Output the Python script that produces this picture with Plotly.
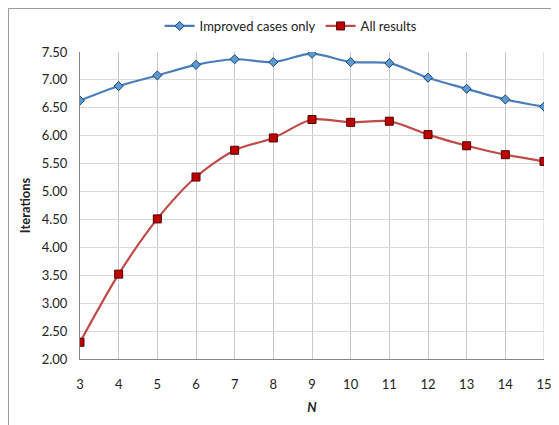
import plotly.graph_objects as go

n_values = [3, 4, 5, 6, 7, 8, 9, 10, 11, 12, 13, 14, 15]
improved_only = [6.63, 6.89, 7.08, 7.27, 7.37, 7.32, 7.47, 7.32, 7.30, 7.04, 6.84, 6.65, 6.52]
all_results = [2.30, 3.52, 4.51, 5.26, 5.74, 5.96, 6.29, 6.24, 6.26, 6.02, 5.82, 5.66, 5.54]
y_ticks = [2.0, 2.5, 3.0, 3.5, 4.0, 4.5, 5.0, 5.5, 6.0, 6.5, 7.0, 7.5]

FONT = "Lato, 'Open Sans', sans-serif"

fig = go.Figure()
fig.add_trace(go.Scatter(
    x=n_values, y=improved_only, name="Improved cases only",
    mode="lines+markers", line=dict(color="#4A7EBB", width=2.2, shape="spline", smoothing=0.8),
    marker=dict(symbol="diamond", size=7, color="#5B9BD5", line=dict(color="#1F3F6A", width=1)),
))
fig.add_trace(go.Scatter(
    x=n_values, y=all_results, name="All results",
    mode="lines+markers", line=dict(color="#BE4B48", width=2.2, shape="spline", smoothing=0.8),
    marker=dict(symbol="square", size=8, color="#C00000", line=dict(color="#4D0000", width=1)),
))

fig.update_layout(
    width=559, height=425,
    margin=dict(l=72, r=23, t=44, b=74, autoexpand=False),
    paper_bgcolor="white", plot_bgcolor="white",
    font=dict(family=FONT, size=13, color="#222222"),
    showlegend=True,
    legend=dict(orientation="h", x=0.455, xanchor="center", yref="container", y=1 - 18 / 425,
                yanchor="middle", font=dict(size=13), itemwidth=30, bgcolor="rgba(0,0,0,0)"),
    xaxis=dict(
        range=[3, 15], tickvals=n_values, tickmode="array", automargin=False,
        showgrid=True, gridcolor="#C8C8C8", gridwidth=1,
        showline=True, linecolor="#868686", linewidth=1,
        ticks="outside", ticklen=13, tickcolor="rgba(0,0,0,0)", zeroline=False,
        title=dict(text="<b><i>N</i></b>", font=dict(size=13), standoff=12),
        tickfont=dict(size=13),
    ),
    yaxis=dict(
        range=[2.0, 7.5], tickvals=y_ticks, tickformat=".2f", automargin=False,
        showgrid=True, gridcolor="#D9D9D9", gridwidth=1,
        showline=True, linecolor="#868686", linewidth=1,
        ticks="outside", ticklen=9, tickcolor="rgba(0,0,0,0)", zeroline=False,
        title=dict(text="<b>Iterations</b>", font=dict(size=13), standoff=8),
        tickfont=dict(size=13),
    ),
    shapes=[
        dict(type="line", xref="paper", yref="paper", x0=-0.154, x1=-0.154, y0=1.1417, y1=-0.3,
             line=dict(color="#9A9A9A", width=1)),
        dict(type="line", xref="paper", yref="paper", x0=-0.154, x1=1.1, y0=1.1417, y1=1.1417,
             line=dict(color="#9A9A9A", width=1)),
        dict(type="line", xref="x", yref="paper", x0=15, x1=15, y0=0, y1=1,
             line=dict(color="#C8C8C8", width=1), layer="below"),
    ],
)

fig.write_html("out.html")
